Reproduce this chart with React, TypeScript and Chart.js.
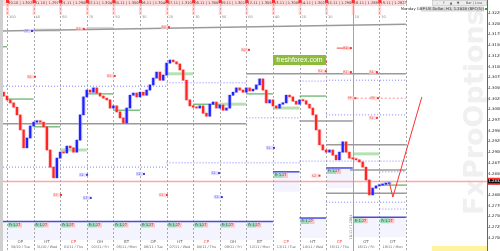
import React, { useEffect, useRef } from "react";
import { Chart, registerables } from "chart.js";

Chart.register(...registerables);

// ---------- window: x in trading days, y in price ----------
const X_MIN = -0.263;
const X_MAX = 18.05;
const Y_MIN = 1.2669;
const Y_MAX = 1.32554;

// ---------- H3 bars ----------
const BAR_START = -0.25;
const BAR_STEP = 0.125;
const FIRST_OPEN = 1.305;
const CLOSES = [
  1.3040, 1.3031, 1.3022, 1.3015, 1.3005, 1.2987, 1.2952, 1.2910,
  1.2933, 1.2961, 1.2970, 1.2973, 1.2970, 1.2959, 1.2905, 1.2865,
  1.2840, 1.2886, 1.2900, 1.2898, 1.2914, 1.2910, 1.2900, 1.2928,
  1.2987, 1.3029, 1.3045, 1.3040, 1.3050, 1.3038, 1.3031, 1.3026,
  1.3022, 1.3003, 1.3008, 1.2994, 1.2980, 1.2968, 1.3003, 1.3033,
  1.3038, 1.3029, 1.3040, 1.3033, 1.3045, 1.3057, 1.3073, 1.3087,
  1.3068, 1.3080, 1.3108, 1.3115, 1.3111, 1.3106, 1.3092, 1.3068,
  1.3022, 1.3008, 1.3005, 1.3003, 1.3008, 1.2991, 1.2984, 1.3012,
  1.3017, 1.3003, 1.3010, 1.2998, 1.3003, 1.3033, 1.3040, 1.3050,
  1.3045, 1.3040, 1.3050, 1.3043, 1.3047, 1.3057, 1.3071, 1.3045,
  1.3015, 1.3022, 1.3008, 1.3003, 1.3012, 1.3015, 1.3033, 1.3029,
  1.3019, 1.3012, 1.3022, 1.3020, 1.3012, 1.3003, 1.2987, 1.2952,
  1.2917, 1.2905, 1.2900, 1.2905, 1.2893, 1.2882, 1.2900, 1.2924,
  1.2900, 1.2886, 1.2884, 1.2882, 1.2877, 1.2865, 1.2835, 1.2800,
  1.2816, 1.2821, 1.2823, 1.2825, 1.2826, 1.2828,
];

// ---------- forecast path ----------
const PROJ_X = [14.38, 14.51, 15.6];
const PROJ_P = [1.2828, 1.2795, 1.3029];

// ---------- days ----------
const DAY_LINES = [0, 1, 2, 3, 4, 5, 6, 7, 8, 9, 10, 11, 12, 13, 14, 15];
const CURRENT_DAY = 13;
const TOP_LABELS = [
  "30.10 | 1.3022", "31.10 | 1.2970", "01.11 | 1.2900", "02.11 | 1.3045",
  "05.11 | 1.3008", "06.11 | 1.3040", "07.11 | 1.3108", "08.11 | 1.3005",
  "09.11 | 1.3010", "12.11 | 1.3050", "13.11 | 1.3008", "14.11 | 1.3022",
  "15.11 | 1.2900", "16.11 | 1.2884", "19.11 | 1.2823",
];
const TOP_NOTES = ["100", "40", "60", "70", "50", "30", "20", "30", "50", "60", "40", "20", "10", "10", "30"];
const DAY_CODES = ["OP", "HT", "CP", "OH", "BT", "OP", "HT", "CP", "OH", "BT", "CP", "HT", "CP", "OT", "OT"];
const BOTTOM_DATES = [
  "30/10 / Tue", "31/10 / Wed", "01/11 / Thu", "02/11 / Fri", "05/11 / Mon",
  "06/11 / Tue", "07/11 / Wed", "08/11 / Thu", "09/11 / Fri", "12/11 / Mon",
  "13/11 / Tue", "14/11 / Wed", "15/11 / Thu", "16/11 / Fri", "19/11 / Mon",
];

// ---------- right axis ----------
const PRICE_TICKS = [
  "1.3225", "1.3200", "1.3175", "1.3150", "1.3125", "1.3100", "1.3075", "1.3050",
  "1.3025", "1.3000", "1.2975", "1.2950", "1.2925", "1.2900", "1.2875", "1.2850",
  "1.2825", "1.2800", "1.2775", "1.2750", "1.2725", "1.2700",
];
const CURRENT_PRICE = 1.2832;

// ---------- levels: [fromDay, toDay, price] ----------
const TREND_FROM = [X_MIN, 1.3183];
const TREND_TO = [15, 1.3199];
const GRAY_LEVELS = [
  [9, 15, 1.3083], [X_MIN, 9, 1.2966], [11, 13, 1.2973],
  [12, 15, 1.2917], [12.9, 15, 1.2858], [12, 15, 1.2804],
];
const GREEN_LEVELS = [
  [X_MIN, 0, 1.3146], [0, 1, 1.3024], [1, 2, 1.2959], [3, 4, 1.3036],
  [4, 5, 1.2998], [7, 8, 1.3012], [9, 10, 1.3036], [11, 12, 1.3031], [14, 15, 1.2823],
];
const GREEN_ZONES = [
  [2, 3, 1.2905], [6, 7, 1.3083], [8, 9, 1.3012], [10, 11, 1.3003], [13, 14, 1.2896],
];
const GRAY_ZONES = [
  [1, 2, 1.3185], [3, 4, 1.3189],
];
const BLUE_DOTTED = [
  [X_MIN, 6, 1.3054], [6, 9, 1.3062], [11, 12, 1.3066], [12, 15, 1.3068],
  [X_MIN, 6, 1.2865], [6, 11, 1.2875], [11, 15, 1.2879], [9, 11, 1.2980],
  [12, 15, 1.2987], [14, 15, 1.2854], [12, 15, 1.2783], [14, 15, 1.2767],
];
const BLUE_LEVELS = [
  [X_MIN, 10, 1.2738], [10, 11, 1.2854], [11, 12, 1.2746], [12, 13, 1.2863], [13, 15, 1.2748],
];
const RED_DASHED = [[13, 15, 1.3026]];
const RED_SHORT = [[12.4, 12.9, 1.3143]];

// ---------- small tags: [day, price, text, colour] ----------
const NOTES = [
  [0.79, 1.3183, "PP", "b"], [2.74, 1.3188, "R3", "r"], [5.94, 1.3192, "R3", "r"],
  [8.95, 1.3139, "R2", "r"], [11.84, 1.3111, "R2", "r"], [11.84, 1.3089, "R1", "r"],
  [12.78, 1.3143, "R2", "r"], [12.78, 1.3087, "R1", "r"], [13.76, 1.3087, "R1", "r"],
  [12.95, 1.3026, "PP", "r"], [13.8, 1.3026, "PP", "r"], [13.76, 1.2980, "S1", "r"],
  [0.9, 1.3076, "R1", "r"], [3.9, 1.3078, "R1", "r"],
  [2.86, 1.2847, "S2", "b"], [3.0, 1.2793, "S3", "b"], [5.0, 1.2849, "S2", "b"],
  [1.88, 1.2800, "S3", "r"], [5.86, 1.2800, "S3", "r"], [7.82, 1.2851, "S2", "b"],
  [7.93, 1.2795, "S3", "b"], [9.89, 1.2910, "S1", "b"], [11.6, 1.2845, "S2", "r"],
];

const FONT = '"DejaVu Sans", sans-serif';

const seg = (d1: number, d2: number, p: number) => [
  { x: d1, y: p },
  { x: d2, y: p },
];

const decor = {
  id: "decor",
  beforeDraw(chart: any) {
    const { ctx, width, height } = chart;
    ctx.save();
    ctx.fillStyle = "#ffffff";
    ctx.fillRect(0, 0, width, height);
    ctx.restore();
  },
  beforeDatasetsDraw(chart: any) {
    const { ctx, chartArea: a, scales } = chart;
    const xs = scales.x;
    const ys = scales.y;
    // watermark
    ctx.save();
    ctx.translate(476, 112);
    ctx.rotate(-Math.PI / 2);
    ctx.font = `bold 27px ${FONT}`;
    ctx.fillStyle = "#f0f0f0";
    ctx.textAlign = "center";
    ctx.textBaseline = "middle";
    ctx.fillText("FxProOptions", 0, 0);
    ctx.restore();

    ctx.save();
    // lavender zones
    ctx.fillStyle = "rgba(200,200,255,0.2)";
    BLUE_LEVELS.forEach(([d1, d2, p]) => {
      const x1 = xs.getPixelForValue(d1);
      const x2 = xs.getPixelForValue(d2);
      const py = ys.getPixelForValue(p);
      ctx.fillRect(x1, py, x2 - x1, Math.min(20, a.bottom - 11 - py));
    });
    // day separators
    DAY_LINES.forEach((d) => {
      const px = Math.round(xs.getPixelForValue(d)) + 0.5;
      ctx.beginPath();
      if (d === CURRENT_DAY) {
        ctx.setLineDash([]);
        ctx.strokeStyle = "rgba(255,110,110,0.9)";
      } else {
        ctx.setLineDash([2, 2]);
        ctx.strokeStyle = "#a8a8a8";
      }
      ctx.lineWidth = 1;
      ctx.moveTo(px, a.top);
      ctx.lineTo(px, a.bottom);
      ctx.stroke();
    });
    ctx.setLineDash([]);
    // current price line
    const cy = Math.round(ys.getPixelForValue(CURRENT_PRICE)) + 0.5;
    ctx.strokeStyle = "rgba(255,130,130,0.7)";
    ctx.lineWidth = 1.5;
    ctx.beginPath();
    ctx.moveTo(a.left, cy);
    ctx.lineTo(a.right, cy);
    ctx.stroke();
    ctx.restore();
  },
  afterDatasetsDraw(chart: any) {
    const { ctx, chartArea: a, scales } = chart;
    const xs = scales.x;
    const ys = scales.y;
    ctx.save();
    ctx.textBaseline = "middle";

    // left grey strip
    ctx.fillStyle = "#cfcfcf";
    ctx.fillRect(0, 0, 3, a.bottom);

    // top strip
    TOP_LABELS.forEach((t, d) => {
      const x1 = xs.getPixelForValue(d);
      const x2 = xs.getPixelForValue(d + 1);
      ctx.fillStyle = "#ffdada";
      ctx.fillRect(x1 + 1, 0, x2 - x1 - 2, 6);
      ctx.fillStyle = "rgba(255,150,150,0.4)";
      ctx.fillRect(x1 - 1, 0, 3, 15);
      ctx.fillStyle = "#ff3030";
      ctx.fillRect(x1 - 1, 0, 3, 3);
      ctx.fillStyle = "#444";
      ctx.font = `3.6px ${FONT}`;
      ctx.textAlign = "center";
      ctx.fillText(t, (x1 + x2) / 2 + 1, 3);
      ctx.textAlign = "left";
      ctx.fillStyle = "#888";
      ctx.font = `3.5px ${FONT}`;
      ctx.fillText(TOP_NOTES[d], x1 + 2, 17);
    });
    ctx.fillStyle = "#ffdada";
    ctx.fillRect(3, 0, xs.getPixelForValue(0) - 4, 6);

    // bottom strip
    ctx.textAlign = "center";
    DAY_CODES.forEach((c, d) => {
      const xc = (xs.getPixelForValue(d) + xs.getPixelForValue(d + 1)) / 2;
      ctx.font = `4px ${FONT}`;
      ctx.fillStyle = c === "CP" ? "#ff4040" : "#666";
      ctx.fillText(c, xc, a.bottom - 9);
      ctx.font = `3.4px ${FONT}`;
      ctx.fillStyle = "#666";
      ctx.fillText(BOTTOM_DATES[d], xc, a.bottom - 4);
    });

    // tags on blue levels
    ctx.textAlign = "left";
    BLUE_LEVELS.forEach(([d1, d2, p]) => {
      const py = ys.getPixelForValue(p);
      for (let d = Math.ceil(d1); d < d2; d++) {
        const px = xs.getPixelForValue(d);
        ctx.fillStyle = "rgba(150,215,180,0.9)";
        ctx.fillRect(px + 1, py + 1, 9, 5);
        ctx.fillStyle = "rgba(255,190,190,0.9)";
        ctx.fillRect(px + 10, py + 1, 5, 5);
        ctx.fillStyle = "#335";
        ctx.font = `3.3px ${FONT}`;
        ctx.fillText("Fr 1.27", px + 2, py + 3.6);
      }
    });

    // small level tags
    NOTES.forEach(([d, p, t, c]: any) => {
      const px = xs.getPixelForValue(d);
      const py = ys.getPixelForValue(p);
      ctx.fillStyle = c === "r" ? "rgba(255,205,205,0.7)" : "rgba(210,210,255,0.7)";
      ctx.fillRect(px - 4, py - 2, 7, 4);
      ctx.fillStyle = c === "r" ? "#ff3030" : "#3a3ae0";
      ctx.fillRect(px + 3, py - 1, 2, 2);
      ctx.font = `3.2px ${FONT}`;
      ctx.fillStyle = c === "r" ? "#e85050" : "#5a5ae0";
      ctx.fillText(t, px - 3.5, py + 0.3);
    });

    // rotated date at the current day
    ctx.save();
    ctx.translate(xs.getPixelForValue(CURRENT_DAY) - 2, a.bottom - 24);
    ctx.rotate(-Math.PI / 2);
    ctx.font = `3.4px ${FONT}`;
    ctx.fillStyle = "#666";
    ctx.textAlign = "center";
    ctx.fillText("16.11 / 1.2884", 0, 0);
    ctx.restore();

    // freshforex badge
    ctx.fillStyle = "#8dbb3e";
    ctx.fillRect(273, 55, 53, 10);
    ctx.fillStyle = "#ffffff";
    ctx.font = `7px "Liberation Sans", sans-serif`;
    ctx.textAlign = "center";
    ctx.fillText("freshforex.com", 299.5, 60.5);

    // top right info
    ctx.textAlign = "right";
    ctx.font = `3.8px ${FONT}`;
    ctx.fillStyle = "#d8d8d8";
    ctx.fillRect(421, 6.5, 63, 5);
    ctx.fillStyle = "#333";
    ctx.fillText("Monday GBP-US Dollar, H1, 1.2828 (BFC(5))", 484, 9);
    ctx.fillStyle = "#20b020";
    ctx.fillRect(485, 8, 2, 2);
    ctx.fillStyle = "#ececec";
    ctx.fillRect(432, 0, 55, 6);
    ctx.strokeStyle = "#bbb";
    ctx.lineWidth = 0.5;
    ctx.strokeRect(432.5, 0.5, 54, 5);
    ctx.fillStyle = "#555";
    ctx.textAlign = "center";
    ctx.font = `3.4px ${FONT}`;
    ["-", "\u2191", "\u25b2", "\u25bc"].forEach((g, i) => ctx.fillText(g, 437 + i * 7, 3));
    ctx.fillText("Bar | Line", 474, 3);

    // yellow strip bottom right
    ctx.fillStyle = "#fff3a0";
    ctx.fillRect(432, a.bottom - 5, 55, 5);

    // right price axis
    ctx.strokeStyle = "#666";
    ctx.lineWidth = 1;
    ctx.beginPath();
    ctx.moveTo(a.right + 0.5, 0);
    ctx.lineTo(a.right + 0.5, a.bottom);
    ctx.stroke();
    ctx.textAlign = "left";
    ctx.font = `3.8px ${FONT}`;
    PRICE_TICKS.forEach((t) => {
      const py = ys.getPixelForValue(parseFloat(t));
      ctx.fillStyle = "#666";
      ctx.fillRect(a.right, py, 2, 0.6);
      ctx.fillStyle = "#222";
      ctx.fillText(t, a.right + 1.5, py);
    });
    const cy = ys.getPixelForValue(CURRENT_PRICE);
    ctx.fillStyle = "#ff3030";
    ctx.fillRect(a.right + 1, cy - 3.5, 13, 7);
    ctx.fillStyle = "#111";
    ctx.fillRect(a.right + 1, cy - 2, 13, 4);
    ctx.fillStyle = "#fff";
    ctx.fillText(CURRENT_PRICE.toFixed(4), a.right + 1.5, cy);
    ctx.restore();
  },
};

export default function App() {
  const ref = useRef<HTMLCanvasElement | null>(null);
  useEffect(() => {
    document.body.style.margin = "0";
    const opens = CLOSES.map((c, i) => (i === 0 ? FIRST_OPEN : CLOSES[i - 1]));
    const candles = CLOSES.map((c, i) => ({ x: BAR_START + i * BAR_STEP, y: [opens[i], c] }));
    const candleColors = CLOSES.map((c, i) => (c >= opens[i] ? "#2020ff" : "#ff2525"));
    const haloColors = CLOSES.map((c, i) => (c >= opens[i] ? "rgba(150,150,255,0.45)" : "rgba(255,150,150,0.45)"));

    const lineSet = (data: any[], color: string, width: number, dash: number[] = [], order = 2) => ({
      type: "line",
      data,
      borderColor: color,
      borderWidth: width,
      borderDash: dash,
      pointRadius: 0,
      fill: false,
      tension: 0,
      order,
    });

    const datasets: any[] = [
      {
        type: "bar",
        data: candles,
        backgroundColor: candleColors,
        borderWidth: 0,
        barThickness: 1.6,
        minBarLength: 1,
        grouped: false,
        order: 0,
      },
      {
        type: "bar",
        data: candles,
        backgroundColor: haloColors,
        borderWidth: 0,
        barThickness: 3.6,
        minBarLength: 2,
        grouped: false,
        order: 1,
      },
      lineSet(
        PROJ_X.map((x, i) => ({ x, y: PROJ_P[i] })),
        "#ff3030",
        1,
        [],
        -1
      ),
      lineSet(
        [
          { x: TREND_FROM[0], y: TREND_FROM[1] },
          { x: TREND_TO[0], y: TREND_TO[1] },
        ],
        "#9a9a9a",
        1.5
      ),
    ];
    GRAY_ZONES.forEach(([a, b, p]) => datasets.push(lineSet(seg(a, b, p), "rgba(190,190,190,0.6)", 3, [], 3)));
    GRAY_LEVELS.forEach(([a, b, p]) => datasets.push(lineSet(seg(a, b, p), "#9a9a9a", 1.5)));
    GREEN_ZONES.forEach(([a, b, p]) => datasets.push(lineSet(seg(a, b, p), "rgba(120,200,120,0.55)", 3, [], 3)));
    GREEN_LEVELS.forEach(([a, b, p]) => datasets.push(lineSet(seg(a, b, p), "#3aa040", 1)));
    BLUE_DOTTED.forEach(([a, b, p]) => datasets.push(lineSet(seg(a, b, p), "#8080ff", 1, [1, 2])));
    BLUE_LEVELS.forEach(([a, b, p]) => datasets.push(lineSet(seg(a, b, p), "#4a4ae0", 1.5)));
    RED_DASHED.forEach(([a, b, p]) => datasets.push(lineSet(seg(a, b, p), "rgba(255,120,120,0.85)", 1, [2, 2])));
    RED_SHORT.forEach(([a, b, p]) => datasets.push(lineSet(seg(a, b, p), "#ff4040", 1)));

    const chart = new Chart(ref.current as HTMLCanvasElement, {
      type: "bar",
      data: { datasets },
      options: {
        responsive: false,
        animation: false,
        events: [],
        layout: { padding: { left: 0, right: 13, top: 0, bottom: 0 } },
        plugins: { legend: { display: false }, tooltip: { enabled: false } },
        scales: {
          x: { type: "linear", min: X_MIN, max: X_MAX, display: false, offset: false },
          y: { type: "linear", min: Y_MIN, max: Y_MAX, display: false },
        },
      } as any,
      plugins: [decor as any],
    });
    return () => chart.destroy();
  }, []);
  return (
    <div style={{ width: 500, height: 251 }}>
      <canvas ref={ref} width={500} height={251} style={{ display: "block" }} />
    </div>
  );
}
